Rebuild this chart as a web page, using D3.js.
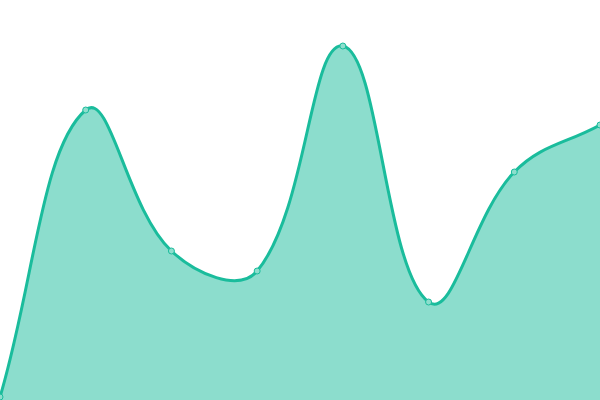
<!DOCTYPE html>
<html lang="en">
<head>
    <style>
        body { margin: 0; background: #fff; }
        svg { display: block; }
    </style>
    <script src="https://d3js.org/d3.v7.min.js"></script>
</head>
<body>
<svg></svg>
<script>
    const width = 600;
    const height = 400;

    const labels = ['A', 'B', 'C', 'D', 'E', 'F', 'G', 'H'];
    const values = [0.75, 72.5, 37.25, 32.25, 88.5, 24.5, 57, 68.75];

    const tension = 0.4;

    const svg = d3.select('svg').attr('width', width).attr('height', height);

    const x = d3.scalePoint()
        .domain(labels)
        .range([0, width]);

    const y = d3.scaleLinear()
        .domain([0, 100])
        .range([height, 0]);

    const pts = labels.map((d, i) => [x(d), y(values[i])]);

    // distance weighted spline, control points clamped to the chart area
    function splinePath(p, ctx) {
        const n = p.length;
        const cps = p.map((mid, i) => {
            const prev = p[Math.max(i - 1, 0)];
            const next = p[Math.min(i + 1, n - 1)];
            const d01 = Math.hypot(mid[0] - prev[0], mid[1] - prev[1]);
            const d12 = Math.hypot(next[0] - mid[0], next[1] - mid[1]);
            const s = d01 + d12 || 1;
            const fa = tension * d01 / s;
            const fb = tension * d12 / s;
            const dx = next[0] - prev[0], dy = next[1] - prev[1];
            const clamp = c => [Math.max(0, Math.min(width, c[0])), Math.max(0, Math.min(height, c[1]))];
            return {
                before: clamp([mid[0] - fa * dx, mid[1] - fa * dy]),
                after: clamp([mid[0] + fb * dx, mid[1] + fb * dy])
            };
        });
        ctx.moveTo(p[0][0], p[0][1]);
        for (let i = 1; i < n; i++) {
            const a = cps[i - 1].after, b = cps[i].before;
            ctx.bezierCurveTo(a[0], a[1], b[0], b[1], p[i][0], p[i][1]);
        }
        return ctx;
    }

    const linePath = splinePath(pts, d3.path()).toString();

    const areaCtx = splinePath(pts, d3.path());
    areaCtx.lineTo(pts[pts.length - 1][0], y(0));
    areaCtx.lineTo(pts[0][0], y(0));
    areaCtx.closePath();

    svg.append('path')
        .attr('d', areaCtx.toString())
        .attr('fill', 'rgba(26, 188, 156, 0.5)');

    svg.append('path')
        .attr('d', linePath)
        .attr('fill', 'none')
        .attr('stroke', '#1abc9c')
        .attr('stroke-width', 3);

    svg.selectAll('.dot')
        .data(pts)
        .enter().append('circle')
        .attr('class', 'dot')
        .attr('cx', d => d[0])
        .attr('cy', d => d[1])
        .attr('r', 3)
        .attr('fill', '#8ddecd')
        .attr('stroke', '#1abc9c')
        .attr('stroke-width', 1);
</script>
</body>
</html>
